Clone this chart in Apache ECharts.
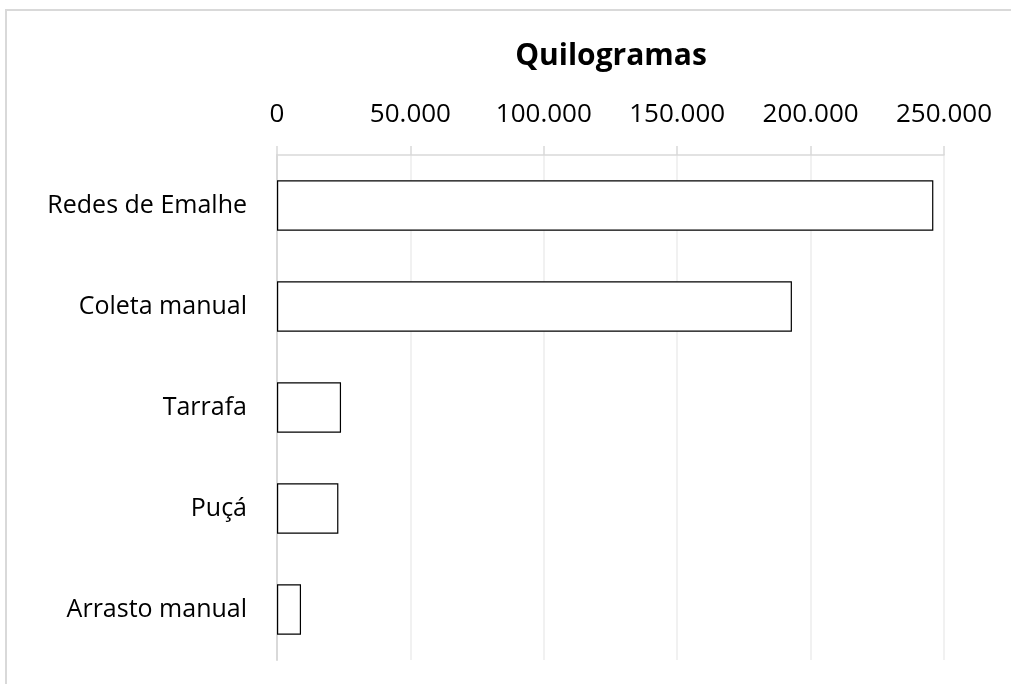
<!doctype html>
<html>
<head>
<meta charset="utf-8">
<title>Quilogramas</title>
<script src="https://cdn.jsdelivr.net/npm/echarts@6/dist/echarts.min.js"></script>
<style>
  html, body { margin: 0; padding: 0; background: #fff; overflow: hidden; }
  #chart { width: 1011px; height: 684px; }
</style>
</head>
<body>
<div id="chart"></div>
<script>
  // categories top -> bottom as drawn
  var categories = ['Redes de Emalhe', 'Coleta manual', 'Tarrafa', 'Puçá', 'Arrasto manual'];
  var kilos = [246000, 193000, 24000, 23000, 9000];
  var axisTicks = [0, 50000, 100000, 150000, 200000, 250000];

  function fmt(v) {
    return String(v).replace(/\B(?=(\d{3})+(?!\d))/g, '.');
  }

  var chart = echarts.init(document.getElementById('chart'));
  chart.setOption({
    animation: false,
    textStyle: { fontFamily: 'Open Sans' },
    title: {
      text: 'Quilogramas',
      left: 606,
      top: 36,
      textAlign: 'center',
      textStyle: { fontSize: 30, fontWeight: 'bold', color: '#000', fontFamily: 'Open Sans' }
    },
    // chart frame: only the top and left edges show in the picture
    graphic: [{
      type: 'polyline',
      shape: { points: [[6, 684], [6, 10], [1011, 10]] },
      style: { fill: null, stroke: '#d9d9d9', lineWidth: 2 },
      silent: true
    }],
    grid: { left: 277, right: 67, top: 155, bottom: 24 },
    xAxis: {
      type: 'value',
      position: 'top',
      min: axisTicks[0],
      max: axisTicks[axisTicks.length - 1],
      interval: axisTicks[1] - axisTicks[0],
      axisLine: { show: true, lineStyle: { color: '#d9d9d9', width: 1.5 } },
      axisTick: { show: true, length: 9, lineStyle: { color: '#d9d9d9', width: 1.5 } },
      splitLine: { show: true, lineStyle: { color: '#ececec', width: 1.5 } },
      axisLabel: {
        margin: 27,
        fontSize: 26,
        color: '#000',
        formatter: function (v) { return fmt(v); }
      }
    },
    yAxis: {
      type: 'category',
      inverse: true,
      data: categories,
      axisLine: { show: true, lineStyle: { color: '#d9d9d9', width: 2 } },
      axisTick: { show: false },
      axisLabel: { margin: 30, fontSize: 25, color: '#000' }
    },
    series: [{
      type: 'bar',
      data: kilos,
      barWidth: '50%',
      itemStyle: { color: '#fff', borderColor: '#000', borderWidth: 1.2 }
    }]
  });
</script>
</body>
</html>
